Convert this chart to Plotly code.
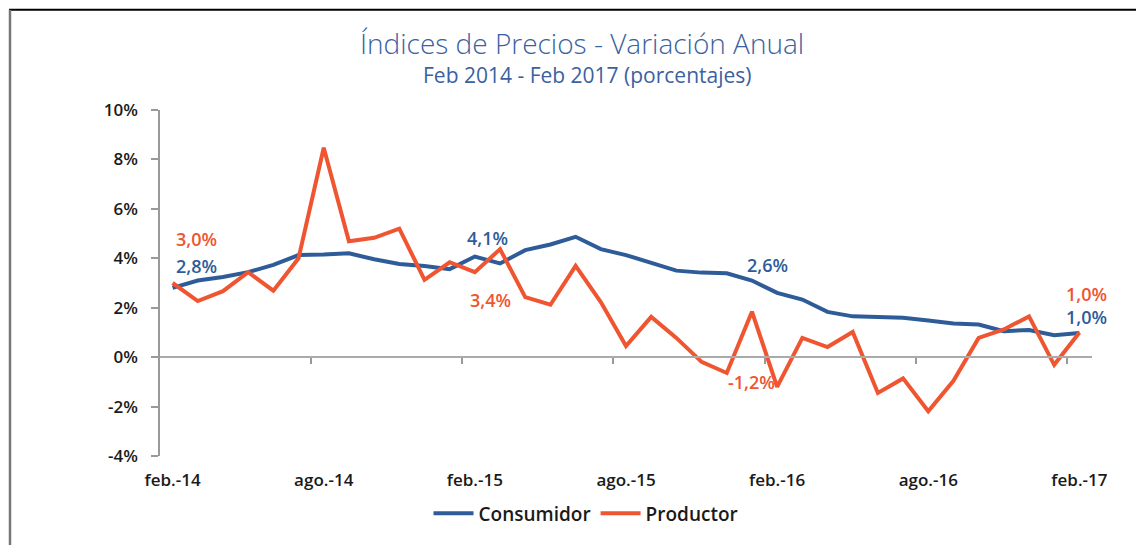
import plotly.graph_objects as go

months = ["feb.-14","mar.-14","abr.-14","may.-14","jun.-14","jul.-14","ago.-14","sep.-14","oct.-14","nov.-14","dic.-14","ene.-15",
          "feb.-15","mar.-15","abr.-15","may.-15","jun.-15","jul.-15","ago.-15","sep.-15","oct.-15","nov.-15","dic.-15","ene.-16",
          "feb.-16","mar.-16","abr.-16","may.-16","jun.-16","jul.-16","ago.-16","sep.-16","oct.-16","nov.-16","dic.-16","ene.-17",
          "feb.-17"]

consumidor = [2.8, 3.1, 3.24, 3.44, 3.73, 4.13, 4.15, 4.2, 3.96, 3.77, 3.69, 3.56,
              4.07, 3.79, 4.33, 4.56, 4.87, 4.37, 4.13, 3.8, 3.5, 3.42, 3.39, 3.1,
              2.6, 2.33, 1.83, 1.65, 1.61, 1.59, 1.48, 1.36, 1.32, 1.05, 1.1, 0.89,
              0.98]

productor = [3.0, 2.27, 2.67, 3.44, 2.69, 4.0, 8.47, 4.69, 4.83, 5.2, 3.13, 3.84,
             3.44, 4.37, 2.43, 2.12, 3.69, 2.23, 0.45, 1.63, 0.78, -0.19, -0.64, 1.84,
             -1.2, 0.78, 0.41, 1.02, -1.45, -0.86, -2.19, -0.96, 0.78, 1.12, 1.65, -0.31,
             1.0]

tick_idx = [0, 6, 12, 18, 24, 30, 36]
boundary_ticks = [5.5, 11.5, 17.5, 23.5, 29.5, 35.5]
y_ticks = [-4, -2, 0, 2, 4, 6, 8, 10]
y_ticktext = [f"{v}%" for v in y_ticks]

# data labels: (series, index, text, xshift, yshift)
labels = [
    ("productor", 0, "3,0%", 24, 44),
    ("consumidor", 0, "2,8%", 24, 22),
    ("consumidor", 12, "4,1%", 13, 19),
    ("productor", 12, "3,4%", 16, -28),
    ("consumidor", 24, "2,6%", -10, 28),
    ("productor", 24, "-1,2%", -26, 5),
    ("productor", 36, "1,0%", 7, 38),
    ("consumidor", 36, "1,0%", 7, 16),
]

BLUE = "#2E5C98"
RED = "#EF5530"
TITLE_BLUE = "#3A62A0"
FONT = "Open Sans"

# screen geometry of the plot area (page body has an 8px margin)
PX0, PX1, PY0, PY1 = 160, 1092, 110, 459
PW, PH = PX1 - PX0, PY1 - PY0


def px(sx):
    return (sx - PX0) / PW


def py(sy):
    return (PY1 - sy) / PH


x = list(range(len(months)))
fig = go.Figure()
fig.add_trace(go.Scatter(x=x, y=consumidor, mode="lines", name="Consumidor",
                         line=dict(color=BLUE, width=4)))
fig.add_trace(go.Scatter(x=x, y=productor, mode="lines", name="Productor",
                         line=dict(color=RED, width=4)))
# helper trace so the zero-line axis with tick marks is drawn
fig.add_trace(go.Scatter(x=x, y=[0] * len(x), xaxis="x2", mode="lines",
                         line=dict(color="rgba(0,0,0,0)"), showlegend=False, hoverinfo="skip"))

series = {"consumidor": (consumidor, BLUE), "productor": (productor, RED)}
for s, i, t, dx, dy in labels:
    vals, col = series[s]
    fig.add_annotation(x=i, y=vals[i], text=t, showarrow=False, xshift=dx, yshift=dy,
                       font=dict(family=FONT, size=18, color=col, weight=600))

fig.add_annotation(xref="paper", yref="paper", x=px(582), y=py(42),
                   text="Índices de Precios - Variación Anual", showarrow=False,
                   font=dict(family=FONT, size=28, color=TITLE_BLUE, weight=300), yanchor="middle")
fig.add_annotation(xref="paper", yref="paper", x=px(587), y=py(75),
                   text="Feb 2014 - Feb 2017 (porcentajes)", showarrow=False,
                   font=dict(family=FONT, size=21, color=TITLE_BLUE), yanchor="middle")

# frame lines
fig.add_shape(type="line", xref="paper", yref="paper", x0=px(9), x1=px(1150),
              y0=py(9), y1=py(9), line=dict(color="black", width=2))
fig.add_shape(type="line", xref="paper", yref="paper", x0=px(10), x1=px(10),
              y0=py(9), y1=py(550), line=dict(color="#777777", width=2.5))

fig.update_layout(
    width=1136, height=537,
    margin=dict(l=PX0 - 8, r=1144 - PX1, t=PY0 - 8, b=545 - PY1),
    paper_bgcolor="white", plot_bgcolor="white",
    font=dict(family=FONT, color="#1a1a1a"),
    xaxis=dict(range=[-0.5, 36.5], tickvals=tick_idx, ticktext=[months[i] for i in tick_idx],
               showgrid=False, zeroline=False, showline=False, ticks="",
               ticklabelstandoff=12,
               tickfont=dict(family=FONT, size=17, color="#1a1a1a", weight=600)),
    xaxis2=dict(overlaying="x", anchor="free", position=4 / 14, range=[-0.5, 36.5],
                tickvals=boundary_ticks, ticks="outside", ticklen=6, tickcolor="#999999",
                tickwidth=1.5, showticklabels=False, showgrid=False, zeroline=False,
                showline=True, linecolor="#aaaaaa", linewidth=2, side="bottom"),
    yaxis=dict(range=[-4, 10], tickvals=y_ticks, ticktext=y_ticktext, showgrid=False,
               zeroline=False, showline=True, linecolor="#999999", linewidth=1.5,
               ticks="outside", ticklen=7, tickcolor="#999999", tickwidth=1.5,
               ticklabelstandoff=10,
               tickfont=dict(family=FONT, size=17, color="#1a1a1a", weight=600)),
    legend=dict(orientation="h", x=px(586), xanchor="center", y=py(517),
                yanchor="middle", font=dict(family=FONT, size=19, color="#1a1a1a", weight=600),
                itemwidth=40, tracegroupgap=0),
    showlegend=True,
)

fig.write_html("out.html")
